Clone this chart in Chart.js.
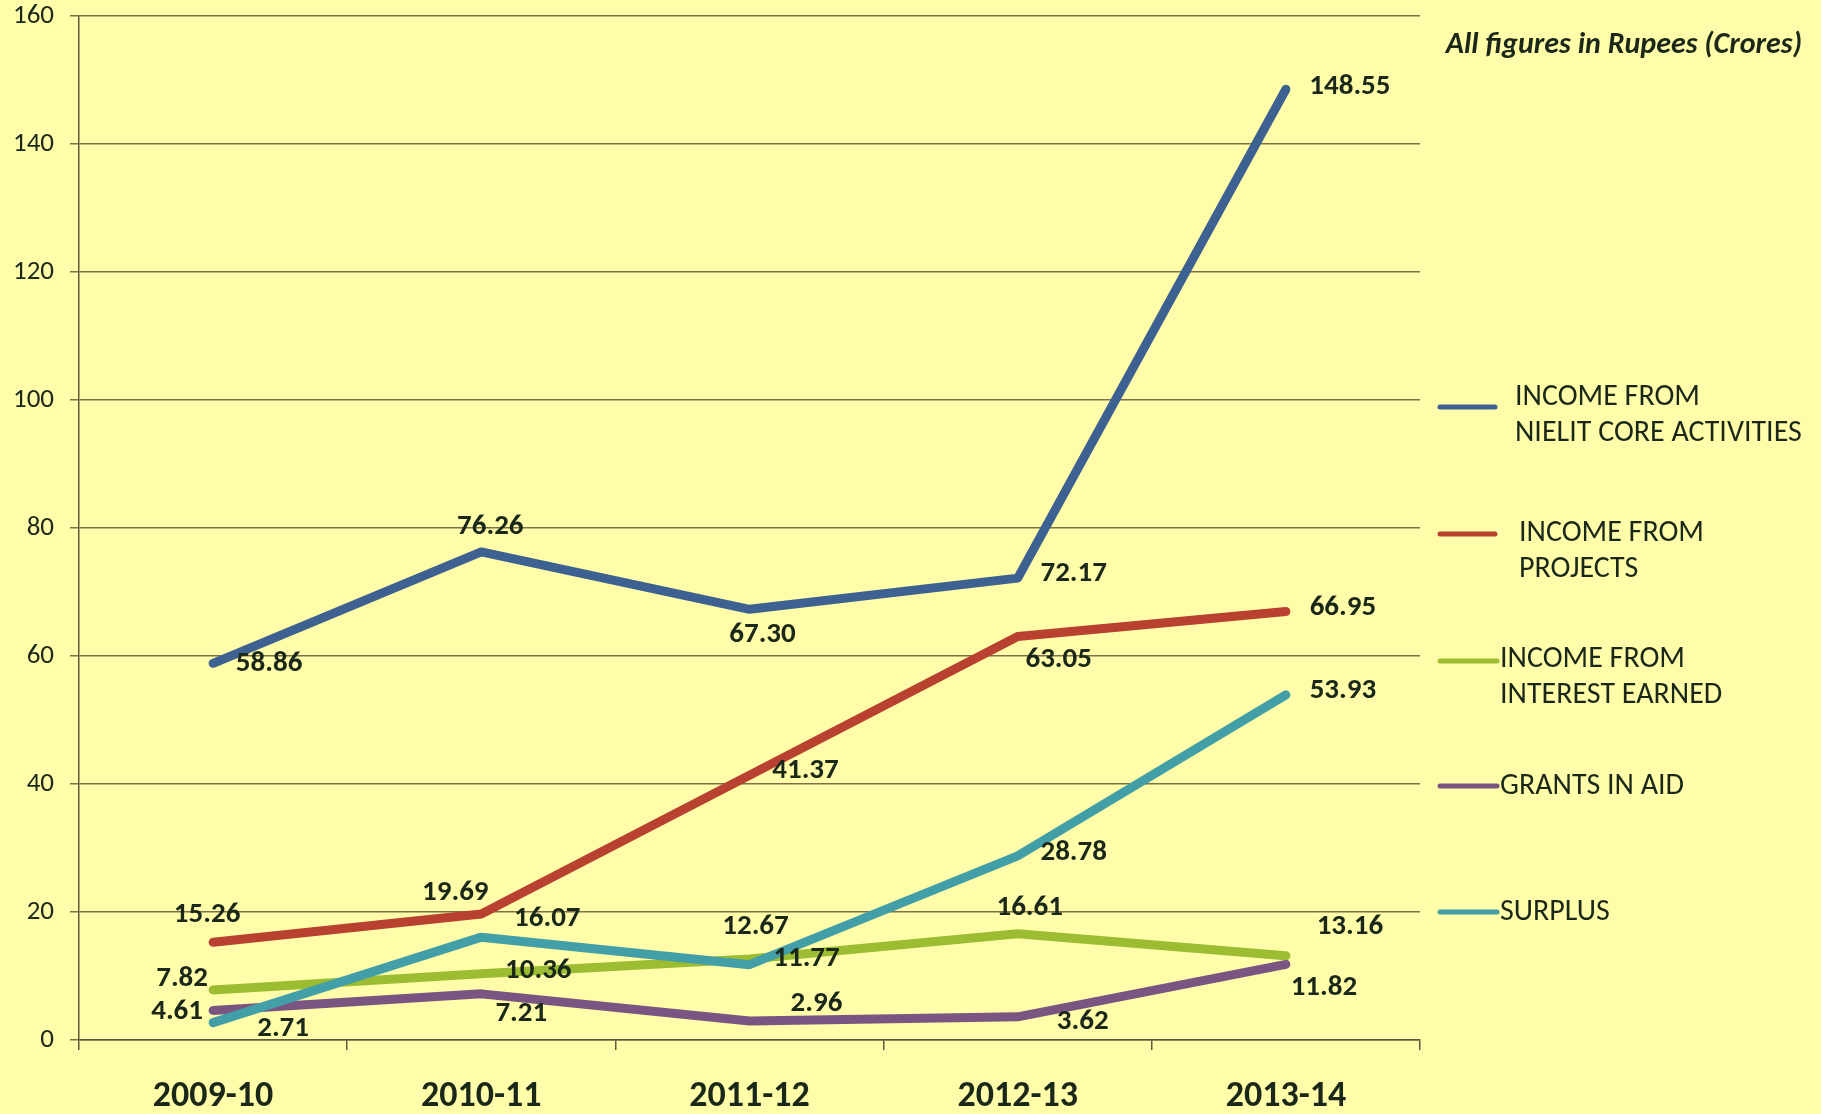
<!DOCTYPE html>
<html>
<head>
<meta charset="utf-8">
<script src="https://cdn.jsdelivr.net/npm/chart.js@4/dist/chart.umd.min.js"></script>
<style>
html,body{margin:0;padding:0;background:#fffdaa;}
#wrap{width:1821px;height:1114px;position:relative;}
</style>
</head>
<body>
<div id="wrap"><canvas id="c" width="1821" height="1114"></canvas></div>
<script>
// ---- data ----
const categories = ['2009-10', '2010-11', '2011-12', '2012-13', '2013-14'];
const coreActivities = [58.86, 76.26, 67.30, 72.17, 148.55];
const projects = [15.26, 19.69, 41.37, 63.05, 66.95];
const interestEarned = [7.82, 10.36, 12.67, 16.61, 13.16];
const grantsInAid = [4.61, 7.21, 2.96, 3.62, 11.82];
const surplus = [2.71, 16.07, 11.77, 28.78, 53.93];
const seriesNames = [
  ['INCOME FROM', 'NIELIT CORE ACTIVITIES'],
  ['INCOME FROM', 'PROJECTS'],
  ['INCOME FROM', 'INTEREST EARNED'],
  ['GRANTS IN AID'],
  ['SURPLUS']
];
const yTicks = [0, 20, 40, 60, 80, 100, 120, 140, 160];
const noteText = 'All figures in Rupees (Crores)';

// ---- styles ----
const colors = ['#3d6190', '#b8422f', '#9cbc31', '#7a5581', '#429ea7'];
const textColor = '#1b2819';
const FONT = 'Carlito, Lato, "Open Sans", sans-serif';
// label offsets (px) relative to each point, per series
const labelOffsets = [
  [[56,0],[9,-25],[13,25],[56,-4],[64,-3]],
  [[-6,-28],[-26,-21],[56,-4],[41,23],[57,-4]],
  [[-31,-11],[57,-3],[6,-32],[12,-26],[64,-29]],
  [[-36,1],[40,20],[67,-17],[65,5],[38,23]],
  [[70,6],[66,-18],[57,-6],[56,-3],[57,-4]]
];
// legend layout (px relative to chart area right edge / gridlines)
const legendSwatchX = [[20,75],[20,75],[20,77],[20,77],[20,77]];
const legendTextX = [95, 99, 80, 80, 80];
const legendSwatchDy = [7, 6, 5, 2, 0];
const legendTextDy = [-10, -1, -2, 0, 0];

const allSeries = [coreActivities, projects, interestEarned, grantsInAid, surplus];

const bgPlugin = {
  id: 'bg',
  beforeDraw(chart) {
    const ctx = chart.ctx;
    ctx.save();
    ctx.fillStyle = '#fffdaa';
    ctx.fillRect(0, 0, chart.width, chart.height);
    ctx.restore();
  }
};

const labelPlugin = {
  id: 'pointLabels',
  afterDatasetsDraw(chart) {
    const ctx = chart.ctx;
    ctx.save();
    ctx.font = 'bold 29px ' + FONT;
    ctx.fillStyle = textColor;
    ctx.textAlign = 'center';
    ctx.textBaseline = 'middle';
    chart.data.datasets.forEach((ds, i) => {
      const meta = chart.getDatasetMeta(i);
      meta.data.forEach((pt, j) => {
        const off = labelOffsets[i][j];
        ctx.fillText(ds.data[j].toFixed(2), pt.x + off[0], pt.y + off[1]);
      });
    });
    ctx.restore();
  }
};

const legendPlugin = {
  id: 'sideLegend',
  afterDraw(chart) {
    const ctx = chart.ctx;
    const ys = chart.scales.y;
    const right = chart.chartArea.right;
    ctx.save();
    // note
    ctx.font = 'italic bold 30px ' + FONT;
    ctx.fillStyle = textColor;
    ctx.textAlign = 'right';
    ctx.textBaseline = 'middle';
    ctx.fillText(noteText, chart.width - 19, 45);
    // legend items
    ctx.font = '30px ' + FONT;
    ctx.textAlign = 'left';
    seriesNames.forEach((lines, i) => {
      const gy = ys.getPixelForValue(100 - 20 * i);
      const y = gy + legendSwatchDy[i];
      ctx.strokeStyle = colors[i];
      ctx.lineWidth = 5;
      ctx.lineCap = 'round';
      ctx.beginPath();
      ctx.moveTo(right + legendSwatchX[i][0], y);
      ctx.lineTo(right + legendSwatchX[i][1], y);
      ctx.stroke();
      const ty = y + legendTextDy[i];
      lines.forEach((t, k) => {
        ctx.fillText(t, right + legendTextX[i], ty + k * 36);
      });
    });
    ctx.restore();
  }
};

const datasets = allSeries.map((d, i) => ({
  label: seriesNames[i].join(' '),
  data: d,
  borderColor: colors[i],
  backgroundColor: colors[i],
  borderWidth: 9,
  pointRadius: 0,
  pointHoverRadius: 0,
  tension: 0,
  fill: false,
  borderCapStyle: 'round',
  borderJoinStyle: 'round',
  order: allSeries.length - 1 - i
}));

new Chart(document.getElementById('c'), {
  type: 'line',
  data: { labels: categories, datasets },
  options: {
    responsive: false,
    animation: false,
    devicePixelRatio: 1,
    layout: { padding: { left: 0, right: 401, top: 0, bottom: 0 } },
    plugins: {
      legend: { display: false },
      tooltip: { enabled: false },
      title: { display: false }
    },
    scales: {
      x: {
        offset: true,
        grid: {
          offset: true,
          drawOnChartArea: false,
          drawTicks: true,
          tickLength: 10,
          color: '#5d5a3c',
          lineWidth: 1.5
        },
        border: { display: true, color: '#5d5a3c', width: 1.5 },
        ticks: {
          color: textColor,
          font: { family: FONT, size: 36, weight: 'bold' },
          padding: 25,
          maxRotation: 0
        },
        afterFit(scale) { scale.height = 74; }
      },
      y: {
        min: 0,
        max: 160,
        afterBuildTicks(scale) { scale.ticks = yTicks.map(v => ({ value: v })); },
        grid: {
          color: '#7d7048',
          lineWidth: 1.5,
          tickLength: 9,
          drawTicks: true
        },
        border: { display: true, color: '#5d5a3c', width: 1.5 },
        ticks: {
          color: textColor,
          font: { family: FONT, size: 27 },
          padding: 16
        },
        afterFit(scale) {
          scale.width = 79;
          scale.paddingTop = 16;
          scale.paddingBottom = 10;
        }
      }
    }
  },
  plugins: [bgPlugin, labelPlugin, legendPlugin]
});
</script>
</body>
</html>
